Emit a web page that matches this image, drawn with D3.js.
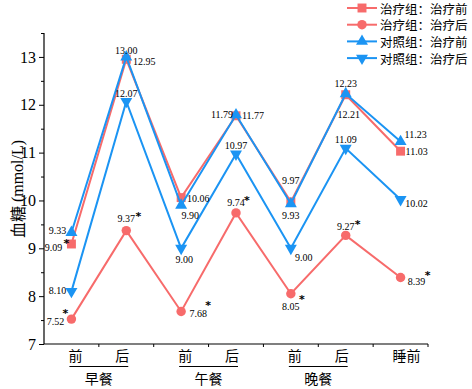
<!DOCTYPE html>
<html>
<head>
<meta charset="utf-8">
<script src="https://cdn.jsdelivr.net/npm/d3@7"></script>
<style>
  body { margin: 0; background: #fff; }
  .serif { font-family: "Liberation Serif", "DejaVu Serif", serif; }
  .cjk { font-family: "Noto Sans CJK SC", sans-serif; }
</style>
</head>
<body>
<div id="chart"></div>
<script>
// categories along x
const categories = ["前", "后", "前", "后", "前", "后", "睡前"];
const groupNames = ["早餐", "午餐", "晚餐"];
const groupStart = [0, 2, 4];

// series values (mmol/L)
const seriesNames = ["治疗组：治疗前", "治疗组：治疗后", "对照组：治疗前", "对照组：治疗后"];
const txBefore = [9.09, 12.95, 10.06, 11.77, 9.97, 12.21, 11.03];
const txAfter = [7.52, 9.37, 7.68, 9.74, 8.05, 9.27, 8.39];
const ctBefore = [9.33, 13.00, 9.90, 11.79, 9.93, 12.23, 11.23];
const ctAfter = [8.10, 12.07, 9.00, 10.97, 9.00, 11.09, 10.02];

// significance marks (*)
const txBeforeSig = [1, 0, 0, 0, 0, 0, 0];
const txAfterSig = [1, 1, 1, 1, 1, 1, 1];
const ctBeforeSig = [0, 0, 0, 0, 0, 0, 0];
const ctAfterSig = [0, 0, 0, 0, 0, 0, 0];

const yTicks = [7, 8, 9, 10, 11, 12, 13];

// label placement, [dx, dy] from the point
const labelPos = [
    [[-18, 3], [18, 2], [17, 1], [17, 0], [0, -21], [3, 20], [16, 0]],
    [[-16, 2], [0, -12], [17, 2], [0, -10], [0, 13], [0, -9], [16, 4]],
    [[-14, -2], [0, -6], [9, 10], [-14, 0], [0, 12], [0, -10], [15, -7]],
    [[-14, -1], [0, -8], [3, 11], [0, -9], [13, 9], [0, -9], [16, 4]]
];
const starPos = [
    [[-5, -5], null, null, null, null, null, null],
    [[-6, -10], [12, -18], [27, -10], [11, -16], [11, 2], [12, -15], [27, -6]],
    [null, null, null, null, null, null, null],
    [null, null, null, null, null, null, null]
];

const red = "#f76b6b", blue = "#1b94f3";
const colors = [red, red, blue, blue];
const shapes = ["square", "circle", "up", "down"];

const margin = { top: 33, left: 44 },
    width = 472, height = 389,
    plotRight = 428, plotBottom = 344;

const svg = d3.select("#chart")
    .append("svg")
    .attr("width", width)
    .attr("height", height);

const x = d3.scaleBand()
    .domain(d3.range(categories.length))
    .range([margin.left, plotRight])
    .paddingInner(0).paddingOuter(0);

const y = d3.scaleLinear()
    .domain([7, 13.5])
    .range([plotBottom, margin.top]);

const cx = i => x(i) + x.bandwidth() / 2;

// Y axis (major + minor ticks)
const yAxis = svg.append("g")
    .attr("transform", `translate(${margin.left},0)`)
    .call(d3.axisLeft(y).tickValues(yTicks).tickSize(5).tickPadding(3).tickFormat(d3.format("d")));
yAxis.attr("font-family", null);
yAxis.select(".domain").attr("stroke-width", 1.2).attr("d", `M0,${margin.top}V${plotBottom}`);
yAxis.selectAll("text")
    .attr("class", "serif")
    .attr("font-size", 16).attr("fill", "#000");
svg.append("g")
    .attr("transform", `translate(${margin.left},0)`)
    .call(d3.axisLeft(y).tickValues(d3.range(7.5, 13.6, 1)).tickSize(3).tickFormat(""))
    .call(g => g.select(".domain").remove());

// X axis: ticks at band edges
const xAxis = svg.append("g")
    .attr("transform", `translate(0,${plotBottom})`);
xAxis.append("line")
    .attr("x1", margin.left).attr("x2", plotRight)
    .attr("stroke", "#000").attr("stroke-width", 1.2);
xAxis.selectAll(".xt")
    .data(d3.range(1, categories.length + 1))
    .join("line")
    .attr("x1", d => x(0) + d * x.bandwidth())
    .attr("x2", d => x(0) + d * x.bandwidth())
    .attr("y1", 0).attr("y2", 3)
    .attr("stroke", "#000");

svg.selectAll(".xlab")
    .data(categories)
    .join("text")
    .attr("class", "cjk")
    .attr("x", (d, i) => cx(i) + (d === "前" ? 4 : d === "后" ? -4 : 6))
    .attr("y", 355)
    .attr("text-anchor", "middle")
    .attr("dominant-baseline", "central")
    .attr("font-size", 14)
    .text(d => d);

// meal groups with underline
groupNames.forEach((g, k) => {
    const i = groupStart[k];
    svg.append("line")
        .attr("x1", cx(i) - 2).attr("x2", cx(i + 1) + 2)
        .attr("y1", 366.5).attr("y2", 366.5)
        .attr("stroke", "#000").attr("stroke-width", 1);
    svg.append("text")
        .attr("class", "cjk")
        .attr("x", (cx(i) + cx(i + 1)) / 2)
        .attr("y", 378)
        .attr("text-anchor", "middle")
        .attr("dominant-baseline", "central")
        .attr("font-size", 14)
        .text(g);
});

// y title
const title = svg.append("text")
    .attr("transform", "translate(17,189) rotate(-90)")
    .attr("text-anchor", "middle")
    .attr("dominant-baseline", "central")
    .attr("font-size", 16);
title.append("tspan").attr("class", "cjk").text("血糖");
title.append("tspan").attr("class", "serif").text(" (mmol/L)");

// markers
function marker(sel, shape, color) {
    if (shape === "square") {
        sel.append("path").attr("d", d3.symbol(d3.symbolSquare, 80)()).attr("fill", color);
    } else if (shape === "circle") {
        sel.append("path").attr("d", d3.symbol(d3.symbolCircle, 70)()).attr("fill", color);
    } else if (shape === "up") {
        sel.append("path").attr("d", d3.symbol(d3.symbolTriangle, 62)()).attr("fill", color);
    } else {
        sel.append("path").attr("d", d3.symbol(d3.symbolTriangle, 62)())
            .attr("transform", "rotate(180)").attr("fill", color);
    }
}

const allSeries = [txBefore, txAfter, ctBefore, ctAfter];
const allSig = [txBeforeSig, txAfterSig, ctBeforeSig, ctAfterSig];

const line = d3.line()
    .x((d, i) => cx(i))
    .y(d => y(d));

allSeries.forEach((vals, s) => {
    svg.append("path")
        .datum(vals)
        .attr("fill", "none")
        .attr("stroke", colors[s])
        .attr("stroke-width", 2)
        .attr("d", line);
    vals.forEach((v, i) => {
        const g = svg.append("g").attr("transform", `translate(${cx(i)},${y(v)})`);
        marker(g, shapes[s], colors[s]);
    });
});

// value labels
allSeries.forEach((vals, s) => {
    vals.forEach((v, i) => {
        const [dx, dy] = labelPos[s][i];
        svg.append("text")
            .attr("class", "serif")
            .attr("x", cx(i) + dx)
            .attr("y", y(v) + dy)
            .attr("text-anchor", "middle")
            .attr("dominant-baseline", "central")
            .attr("font-size", 10)
            .text(v.toFixed(2));
        if (allSig[s][i]) {
            const [sx, sy] = starPos[s][i];
            svg.append("text")
                .attr("x", cx(i) + sx)
                .attr("y", y(v) + sy + 4)
                .attr("text-anchor", "middle")
                .attr("dominant-baseline", "central")
                .attr("font-family", "'DejaVu Sans', sans-serif")
                .attr("font-weight", "bold")
                .attr("font-size", 11)
                .text("*");
        }
    });
});

// legend
const legend = svg.append("g");
seriesNames.forEach((name, s) => {
    const ly = 8 + s * 16.7;
    legend.append("line")
        .attr("x1", 347).attr("x2", 377)
        .attr("y1", ly).attr("y2", ly)
        .attr("stroke", colors[s]).attr("stroke-width", 2);
    marker(legend.append("g").attr("transform", `translate(362,${ly})`), shapes[s], colors[s]);
    legend.append("text")
        .attr("class", "cjk")
        .attr("x", 380).attr("y", ly)
        .attr("dominant-baseline", "central")
        .attr("font-size", 12.5)
        .text(name);
});
</script>
</body>
</html>
